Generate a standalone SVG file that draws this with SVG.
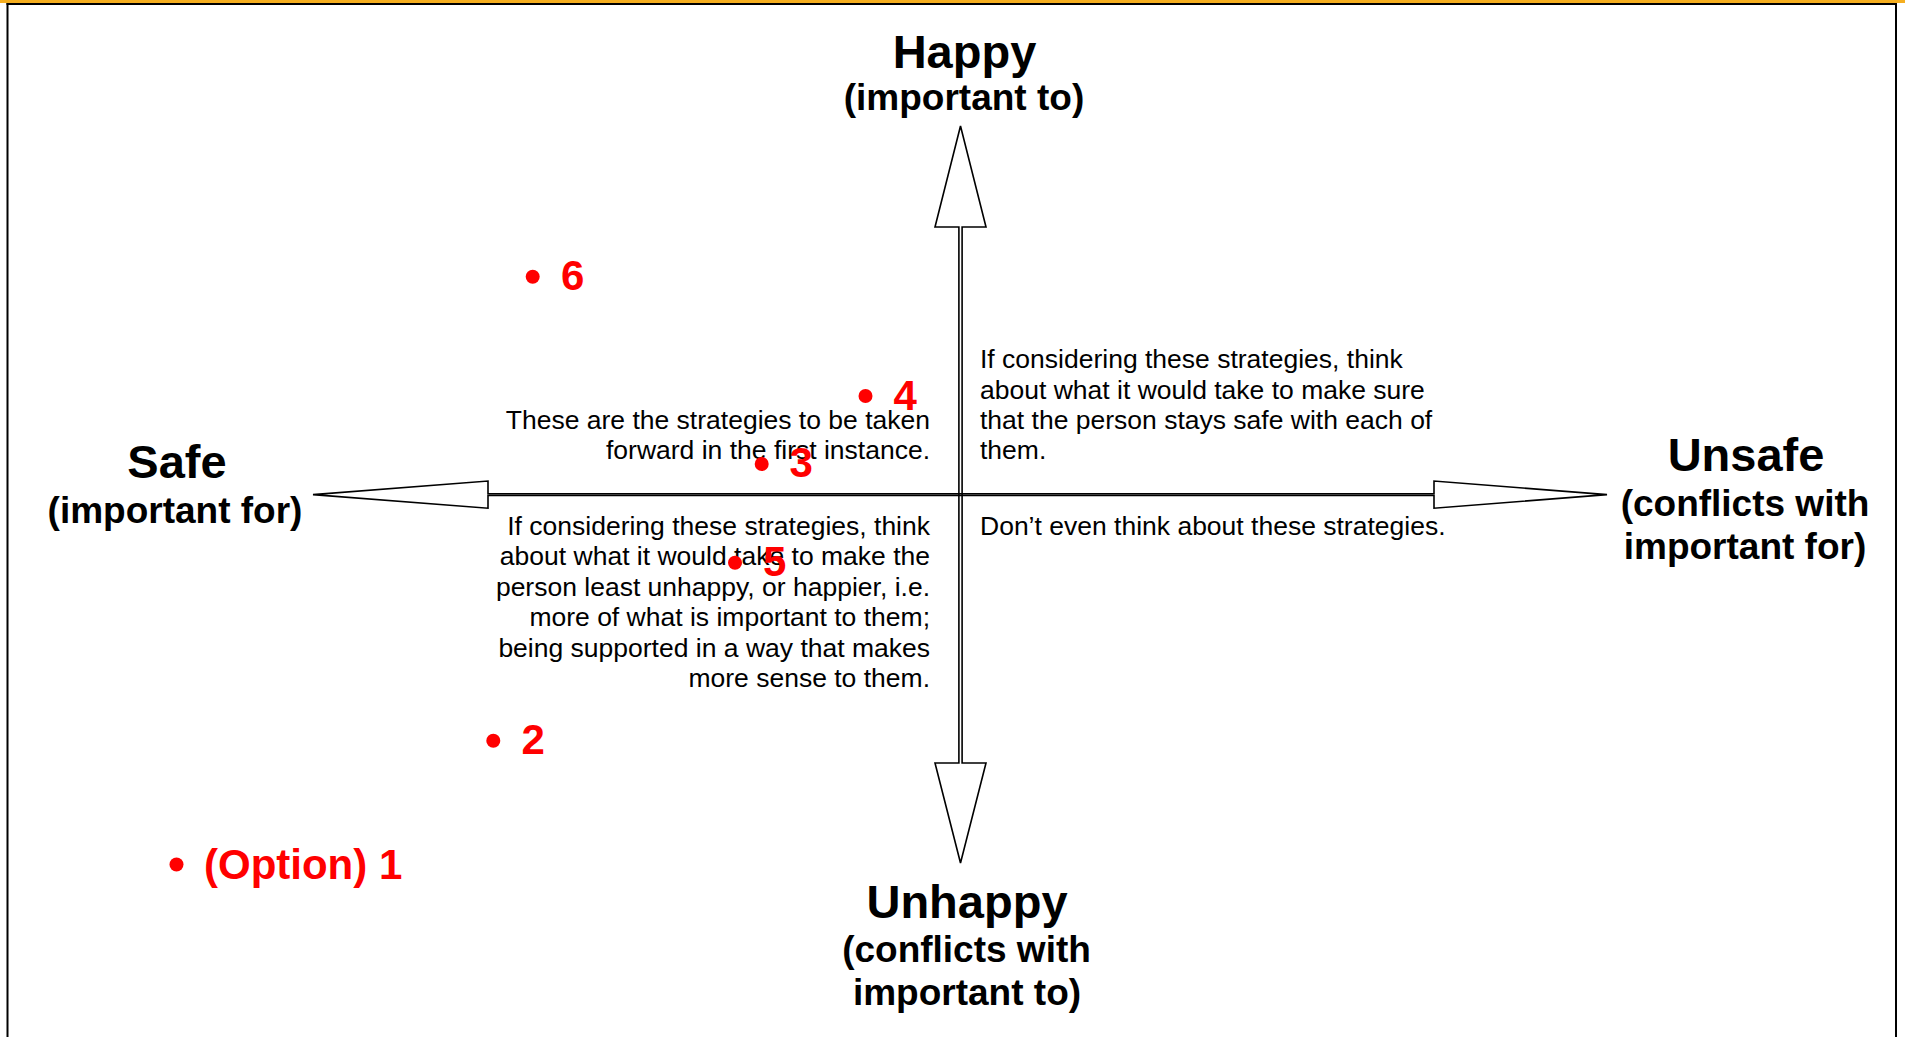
<svg xmlns="http://www.w3.org/2000/svg" width="1905" height="1037" viewBox="0 0 1905 1037">
<style>
.big{font-family:"Liberation Sans",Arial,sans-serif;font-weight:bold;font-size:47px;fill:#000;text-anchor:middle}
.sub{font-family:"Liberation Sans",Arial,sans-serif;font-weight:bold;font-size:37px;fill:#000;text-anchor:middle}
.body{font-family:"Liberation Sans",Arial,sans-serif;font-size:26.5px;fill:#000}
.r{text-anchor:end}
.red{font-family:"Liberation Sans",Arial,sans-serif;font-weight:bold;font-size:42px;fill:#FF0000}
.dot{fill:#FF0000}
.ax{fill:none;stroke:#000;stroke-width:1.6;stroke-linejoin:miter}
</style>
<rect x="0" y="0" width="1905" height="1037" fill="#fff"/>
<g id="frame">
<rect x="0" y="0" width="1905" height="3" fill="#F5AE1F"/>
<line x1="6.5" y1="4" x2="1897" y2="4" stroke="#000" stroke-width="2"/>
<line x1="7.5" y1="3" x2="7.5" y2="1037" stroke="#000" stroke-width="2"/>
<line x1="1896" y1="3" x2="1896" y2="1037" stroke="#000" stroke-width="2"/>
</g>
<g id="connectors">
<polygon class="ax" points="313,494.6 488,481 488,493.8 1434,493.8 1434,481 1607,494.6 1434,508.2 1434,495.5 488,495.5 488,508.2"/>
<polygon class="ax" points="960.5,126 986,227 962.1,227 962.1,763 986,763 960.5,863 935,763 958.9,763 958.9,227 935,227"/>
</g>
<g id="happy">
<text class="big" x="964.5" y="68">Happy</text>
<text class="sub" x="964" y="110">(important to)</text>
</g>
<g id="safe">
<text class="big" x="177" y="478">Safe</text>
<text class="sub" x="175" y="523">(important for)</text>
</g>
<g id="unsafe">
<text class="big" x="1746" y="471">Unsafe</text>
<text class="sub" x="1745" y="516">(conflicts with</text>
<text class="sub" x="1745" y="559">important for)</text>
</g>
<g id="unhappy">
<text class="big" x="967" y="918">Unhappy</text>
<text class="sub" x="966.5" y="962">(conflicts with</text>
<text class="sub" x="967" y="1005">important to)</text>
</g>
<g id="q-top-left">
<text class="body r" x="930" y="428.5">These are the strategies to be taken</text>
<text class="body r" x="930" y="459">forward in the first instance.</text>
</g>
<g id="q-top-right">
<text class="body" x="980" y="368">If considering these strategies, think</text>
<text class="body" x="980" y="398.5">about what it would take to make sure</text>
<text class="body" x="980" y="429">that the person stays safe with each of</text>
<text class="body" x="980" y="459">them.</text>
</g>
<g id="q-bottom-left">
<text class="body r" x="930" y="535">If considering these strategies, think</text>
<text class="body r" x="930" y="565">about what it would take to make the</text>
<text class="body r" x="930" y="595.5">person least unhappy, or happier, i.e.</text>
<text class="body r" x="930" y="626">more of what is important to them;</text>
<text class="body r" x="930" y="656.5">being supported in a way that makes</text>
<text class="body r" x="930" y="687">more sense to them.</text>
</g>
<g id="q-bottom-right">
<text class="body" x="980" y="535">Don’t even think about these strategies.</text>
</g>
<g id="opt6"><circle class="dot" cx="532.7" cy="276.7" r="7"/><text class="red" x="561" y="290">6</text></g>
<g id="opt4"><circle class="dot" cx="865.5" cy="396" r="7"/><text class="red" x="893.5" y="410">4</text></g>
<g id="opt3"><circle class="dot" cx="761.7" cy="464" r="7"/><text class="red" x="789.5" y="477">3</text></g>
<g id="opt5"><circle class="dot" cx="735" cy="562.7" r="7"/><text class="red" x="763" y="576">5</text></g>
<g id="opt2"><circle class="dot" cx="493.3" cy="740.7" r="7"/><text class="red" x="521.5" y="754">2</text></g>
<g id="opt1"><circle class="dot" cx="176.5" cy="864.5" r="7"/><text class="red" x="204" y="879">(Option) 1</text></g>
</svg>
